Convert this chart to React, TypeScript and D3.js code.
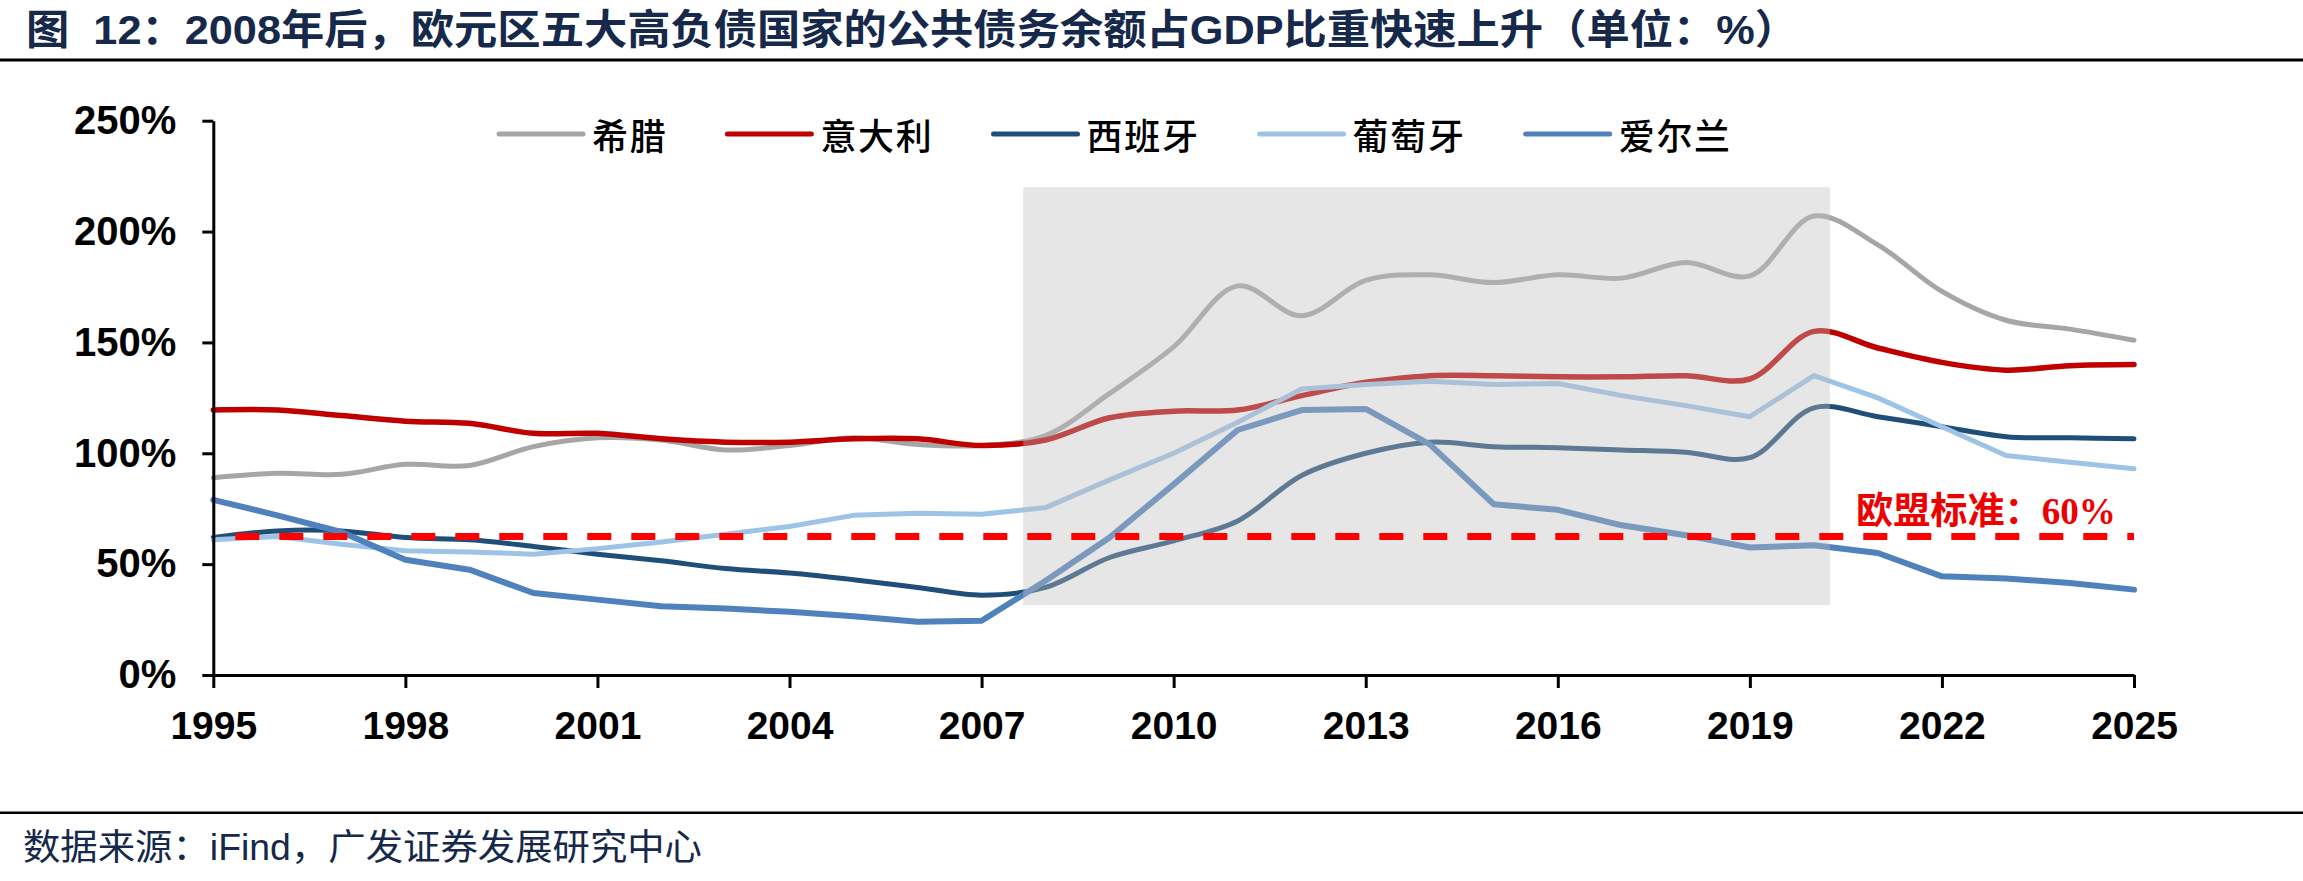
import React, { useEffect, useRef } from 'react';
import * as d3 from 'd3';

const years = [
  1995, 1996, 1997, 1998, 1999, 2000, 2001, 2002, 2003, 2004, 2005,
  2006, 2007, 2008, 2009, 2010, 2011, 2012, 2013, 2014, 2015, 2016,
  2017, 2018, 2019, 2020, 2021, 2022, 2023, 2024, 2025,
];

const seriesNames = ['希腊', '意大利', '西班牙', '葡萄牙', '爱尔兰'];

const greece = [89, 91, 90.5, 95, 94.5, 103, 107, 106, 101.5, 103.5, 107, 104, 103.5, 108, 127, 148, 175.5, 162, 178, 180.5, 177, 180.5, 179, 186, 180, 207, 194, 173, 160, 156, 151];
const italy = [119.5, 119.5, 117, 114.5, 113.5, 109, 109, 106.5, 105, 105, 106.5, 106.5, 103.5, 106, 116, 119, 119.5, 126, 132, 135, 135, 134.5, 134.5, 135, 133.5, 155, 147.5, 141, 137.5, 139.5, 140];
const spain = [62, 65, 65, 62, 61, 58, 54.5, 51.5, 48, 46, 43, 39.5, 36, 39.5, 53, 60.5, 69.5, 90, 100, 105, 103, 102.5, 101.5, 100.5, 98, 120.5, 116.5, 112, 107.5, 107, 106.5];
const portugal = [61, 62.5, 59, 56, 55.5, 54.5, 57, 60, 63.5, 67, 72, 73, 72.5, 75.5, 88, 100, 114, 129, 131, 132.5, 131, 131.5, 126, 121.5, 116.5, 135, 125, 112, 99, 96, 93];
const ireland = [79, 72, 64.5, 52, 47.5, 37, 34, 31, 30, 28.5, 26.5, 24, 24.5, 42.5, 62, 86, 110.5, 119.5, 120, 104, 77, 74.5, 67.5, 63, 57.5, 58.5, 55, 44.5, 43.5, 41.5, 38.5];

const seriesColors = ['#a6a6a6', '#c00000', '#1f4e79', '#9dc3e6', '#4f81bd'];
const seriesSmooth = [true, true, true, false, false];
const seriesWidths = [5, 5.5, 5, 5, 6];

const xTicks = [1995, 1998, 2001, 2004, 2007, 2010, 2013, 2016, 2019, 2022, 2025];
const yTicks = [0, 50, 100, 150, 200, 250];

// shaded period (years) and its vertical extent (%)
const shadeYears = [2007.65, 2020.25];
const shadeValues = [31.5, 220];

const euLimit = 62.5;
const euLabel = '欧盟标准：60%';

const title = '图  12：2008年后，欧元区五大高负债国家的公共债务余额占GDP比重快速上升（单位：%）';
const source = '数据来源：iFind，广发证券发展研究中心';

const NAVY = '#16294a';
const SANS = '"Liberation Sans", Arial, "Noto Sans CJK SC", sans-serif';

export default function App() {
  const svgRef = useRef<SVGSVGElement>(null);

  useEffect(() => {
    const W = 2303;
    const H = 881;
    const svg = d3.select(svgRef.current);
    svg.selectAll('*').remove();
    svg.attr('width', W).attr('height', H);

    svg.append('rect').attr('width', W).attr('height', H).attr('fill', '#fff');

    // Scales
    const x = d3.scaleLinear().domain([1995, 2025]).range([213.3, 2134]);
    const y = d3.scaleLinear().domain([0, 250]).range([675, 120.7]);

    // Title + rule
    svg.append('text')
      .attr('x', 26)
      .attr('y', 44)
      .attr('font-family', SANS)
      .attr('font-size', 41)
      .attr('font-weight', 'bold')
      .attr('fill', NAVY)
      .style('white-space', 'pre')
      .attr('textLength', 1772)
      .attr('lengthAdjust', 'spacingAndGlyphs')
      .text(title);

    svg.append('line')
      .attr('x1', 0).attr('x2', W)
      .attr('y1', 60).attr('y2', 60)
      .attr('stroke', '#000').attr('stroke-width', 3);

    // Series lines
    const allSeries = [greece, italy, spain, portugal, ireland];
    allSeries.forEach((vals, i) => {
      const line = d3.line<number>()
        .x((_, j) => x(years[j]))
        .y(d => y(d))
        .curve(seriesSmooth[i] ? d3.curveCatmullRom.alpha(0.5) : d3.curveLinear);
      svg.append('path')
        .attr('d', line(vals))
        .attr('fill', 'none')
        .attr('stroke', seriesColors[i])
        .attr('stroke-width', seriesWidths[i])
        .attr('stroke-linejoin', 'round')
        .attr('stroke-linecap', 'round');
    });

    // Shaded period (sits on top of the lines, semi transparent)
    svg.append('rect')
      .attr('x', x(shadeYears[0]))
      .attr('y', y(shadeValues[1]))
      .attr('width', x(shadeYears[1]) - x(shadeYears[0]))
      .attr('height', y(shadeValues[0]) - y(shadeValues[1]))
      .attr('fill', 'rgb(190,190,190)')
      .attr('fill-opacity', 0.39);

    // EU 60% line
    svg.append('line')
      .attr('x1', x(1995) + 22).attr('x2', x(2025))
      .attr('y1', y(euLimit)).attr('y2', y(euLimit))
      .attr('stroke', '#ff0000')
      .attr('stroke-width', 7)
      .attr('stroke-dasharray', '24 20');

    svg.append('text')
      .attr('x', 1856)
      .attr('y', 524)
      .attr('font-family', '"Liberation Serif", "Noto Sans CJK SC", serif')
      .attr('font-size', 37)
      .attr('font-weight', 'bold')
      .attr('fill', '#ee0000')
      .attr('textLength', 260)
      .attr('lengthAdjust', 'spacingAndGlyphs')
      .text(euLabel);

    // Axes
    const yAxis = svg.append('g')
      .attr('transform', `translate(${x(1995)},0)`)
      .call(d3.axisLeft(y).tickValues(yTicks).tickFormat(d => `${d}%`).tickSize(11).tickSizeOuter(0).tickPadding(26));

    const xAxis = svg.append('g')
      .attr('transform', `translate(0,${y(0)})`)
      .call(d3.axisBottom(x).tickValues(xTicks).tickFormat(d3.format('d')).tickSize(13).tickSizeOuter(0).tickPadding(23));

    [yAxis, xAxis].forEach(ax => {
      ax.select('.domain').attr('stroke', '#000').attr('stroke-width', 3);
      ax.selectAll('.tick line').attr('stroke', '#000').attr('stroke-width', 3);
      ax.selectAll('.tick text')
        .attr('font-family', SANS)
        .attr('font-weight', 'bold')
        .attr('fill', '#000');
    });
    yAxis.selectAll('.tick text').attr('font-size', 40);
    xAxis.selectAll('.tick text').attr('font-size', 39);

    // Legend
    const legendY = 134;
    let lx = 499;
    seriesNames.forEach((name, i) => {
      svg.append('line')
        .attr('x1', lx).attr('x2', lx + 84)
        .attr('y1', legendY).attr('y2', legendY)
        .attr('stroke', seriesColors[i])
        .attr('stroke-width', 5)
        .attr('stroke-linecap', 'round');
      svg.append('text')
        .attr('x', lx + 93)
        .attr('y', legendY)
        .attr('dominant-baseline', 'central')
        .attr('font-family', '"Noto Sans CJK SC", sans-serif')
        .attr('font-size', 36)
        .attr('font-weight', 500)
        .attr('letter-spacing', 1.7)
        .attr('fill', '#000')
        .text(name);
      lx += 84 + 9 + name.length * 37.7 + 60;
    });

    // Bottom rule + source
    svg.append('line')
      .attr('x1', 0).attr('x2', W)
      .attr('y1', 812.7).attr('y2', 812.7)
      .attr('stroke', '#000').attr('stroke-width', 2.5);

    svg.append('text')
      .attr('x', 23)
      .attr('y', 860)
      .attr('font-family', SANS)
      .attr('font-size', 36)
      .attr('fill', NAVY)
      .attr('textLength', 679)
      .attr('lengthAdjust', 'spacingAndGlyphs')
      .text(source);
  }, []);

  return (
    <div style={{ position: 'absolute', left: 0, top: 0, width: 2303, height: 881, background: '#fff' }}>
      <svg ref={svgRef} style={{ display: 'block' }}></svg>
    </div>
  );
}
